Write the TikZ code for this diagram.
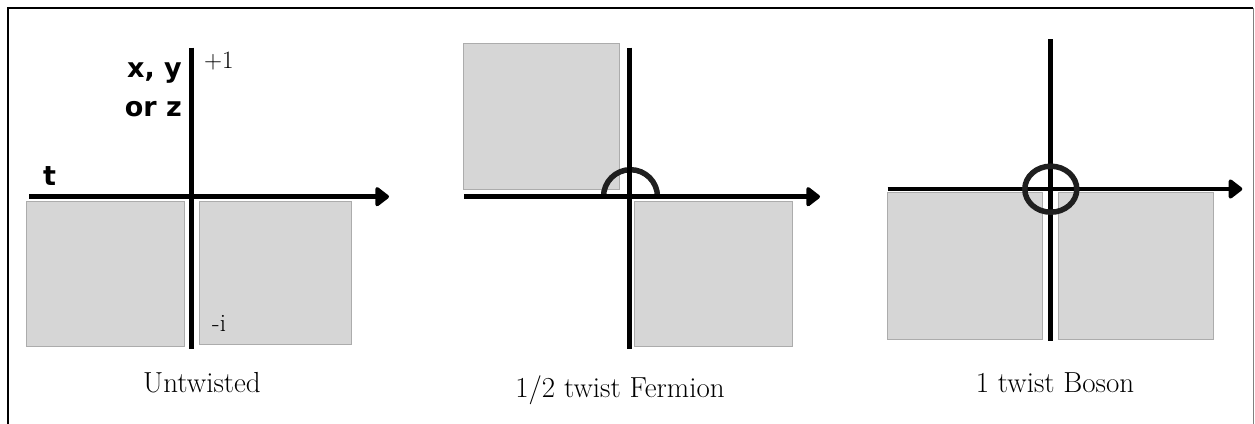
\documentclass[tikz,border=0pt]{standalone}
\usepackage{fontspec}
\newfontfamily\labfont{DejaVu Sans}
\usetikzlibrary{arrows.meta}
\begin{document}
\begin{tikzpicture}[x=1pt,y=-1pt,
  axisline/.style={line width=4.5pt},
  arrowaxis/.style={axisline, -{Triangle[length=15pt,width=22pt,round]}},
  pane/.style={draw=gray!65, fill=gray!32, line width=1pt},
  caption/.style={font=\fontsize{29}{32}\selectfont, inner sep=0pt, anchor=base},
  boldlab/.style={font=\labfont\bfseries\fontsize{27}{30}\selectfont, inner sep=0pt, anchor=base east},
  smalllab/.style={font=\fontsize{25}{27}\selectfont, inner sep=0pt, anchor=base west},
  twist/.style={line width=5.5pt, draw=black!88}
]
\useasboundingbox (0,0) rectangle (1255,423);
% frame
\draw[line width=2.5pt] (8,440) -- (8,8) -- (1253,8);
\draw[gray, line width=1pt] (1253,8) -- (1253,440);

% ---- Panel 1: Untwisted
\draw[pane] (26.7,201.7) rectangle (184,346.7);
\draw[pane] (199.3,201.7) rectangle (351.7,344);
\coordinate (a1s) at (29,196.7);
\coordinate (a1e) at (389,196.7);
\coordinate (v1t) at (191.7,47.7);
\coordinate (v1b) at (191.7,349);
\draw[axisline] (v1t) -- (v1b);
\draw[arrowaxis] (a1s) -- (a1e);
\node[boldlab] (xy) at (182,77) {x, y};
\node[boldlab] (orz) at (182,116) {or z};
\node[boldlab, anchor=base west] (tlab) at (43,185) {t};
\node[smalllab] (pi) at (204,68) {+1};
\node[smalllab] (mi) at (212,331) {-i};
\node[caption] (c1) at (202,392) {Untwisted};

% ---- Panel 2: 1/2 twist Fermion
\draw[pane] (463.3,43.3) rectangle (619,189);
\draw[pane] (634.3,201.7) rectangle (792.3,346.7);
\coordinate (a2s) at (464.3,196.7);
\coordinate (a2e) at (820,196.7);
\coordinate (v2t) at (629.3,47.7);
\coordinate (v2b) at (629.3,349);
\coordinate (o2) at (630.5,196.7);
\draw[twist] ([xshift=-27pt]o2) arc[start angle=180, end angle=0, x radius=27pt, y radius=27pt];
\draw[axisline] (v2t) -- (v2b);
\draw[arrowaxis] (a2s) -- (a2e);
\node[caption] (c2) at (620,397) {1/2 twist Fermion};

% ---- Panel 3: 1 twist Boson
\draw[pane] (887.7,192.7) rectangle (1042.7,339);
\draw[pane] (1058.3,192.7) rectangle (1213.3,339);
\coordinate (a3s) at (887.7,189);
\coordinate (a3e) at (1242.3,189);
\coordinate (v3t) at (1050.7,39.3);
\coordinate (v3b) at (1050.7,340.7);
\coordinate (o3) at (1050.8,189.2);
\draw[axisline] (v3t) -- (v3b);
\draw[arrowaxis] (a3s) -- (a3e);
\draw[twist] (o3) ellipse[x radius=26pt, y radius=23pt];
\node[caption] (c3) at (1055,392) {1 twist Boson};
\end{tikzpicture}
\end{document}
